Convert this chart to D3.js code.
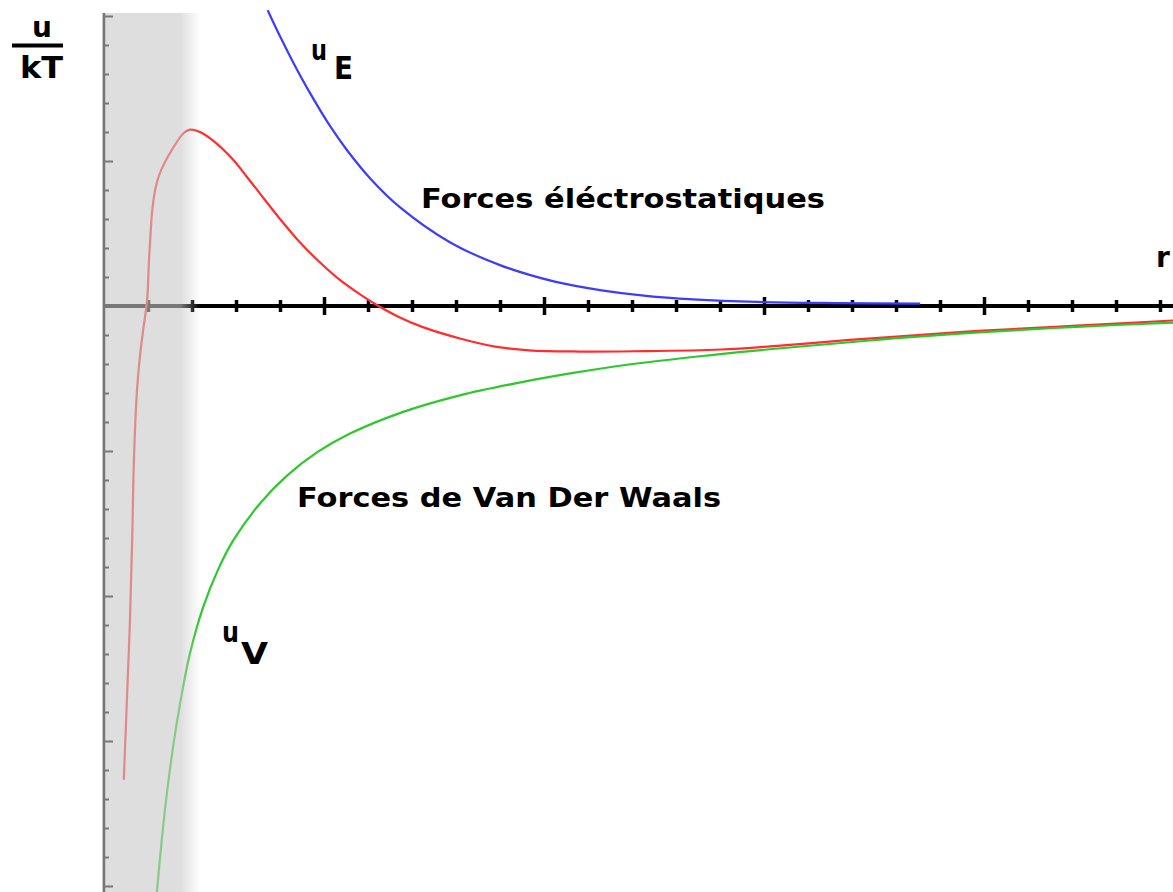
<!DOCTYPE html>
<html>
<head>
<meta charset="utf-8">
<script src="https://cdn.jsdelivr.net/npm/d3@7"></script>
<style>
  body { margin: 0; background: #fff; }
  svg { display: block; }
  .label { font-family: "DejaVu Sans", sans-serif; font-weight: bold; fill: #000; }
</style>
</head>
<body>
<svg width="1173" height="892"></svg>
<script>
// Tick positions (distance units along r, and u/kT units)
const xMinorTicks = [1, 2, 3, 4, 6, 7, 8, 9, 11, 12, 13, 14, 16, 17, 18, 19, 21, 22, 23, 24];
const xMajorTicks = [5, 10, 15, 20];
const yMinorTicks = [9, 8, 7, 6, 4, 3, 2, 1, -1, -2, -3, -4, -6, -7, -8, -9, -11, -12, -13, -14, -16, -17, -18, -19];
const yMajorTicks = [10, 5, -5, -10, -15, -20];

// u_E : electrostatic repulsion (blue)
const electro = [
  [3.72, 10.2], [4.0, 9.3], [4.3, 8.4], [4.68, 7.35], [5.14, 6.2], [5.52, 5.38],
  [6.05, 4.4], [6.73, 3.4], [7.86, 2.2], [9.0, 1.41], [10.27, 0.83], [11.27, 0.55],
  [12.32, 0.35], [13.39, 0.23], [14.84, 0.14], [16.7, 0.1], [18.55, 0.08]
];

// u_V : Van der Waals attraction (green)
const vanDerWaals = [
  [1.19, -20.4], [1.32, -18.3], [1.43, -16.8], [1.57, -15.2], [1.73, -13.7],
  [1.95, -12.0], [2.25, -10.4], [2.59, -9.1], [2.93, -8.1], [3.55, -6.8],
  [4.16, -5.85], [4.84, -5.05], [5.59, -4.4], [6.8, -3.65], [8.09, -3.08],
  [9.41, -2.65], [10.7, -2.3], [12.02, -2.0], [13.75, -1.7], [15.07, -1.5],
  [16.95, -1.25], [18.09, -1.1], [19.98, -0.9], [22.11, -0.72], [24.3, -0.57]
];

// total (red)
const total = [
  [0.45, -16.34], [0.52, -13.59], [0.59, -10.83], [0.64, -8.07], [0.68, -5.31],
  [0.75, -2.9], [0.82, -1.69], [0.89, -0.83], [0.98, 0.21], [1.02, 1.5],
  [1.06, 2.55], [1.1, 3.35], [1.17, 4.05], [1.25, 4.5], [1.38, 4.95], [1.55, 5.4],
  [1.8, 5.95], [1.95, 6.08], [2.18, 6.0], [2.48, 5.7], [2.93, 5.05], [3.25, 4.45],
  [3.61, 3.75], [4.0, 3.0], [4.45, 2.2], [4.91, 1.5], [5.36, 0.9], [5.82, 0.4],
  [6.18, 0.05], [6.7, -0.38], [7.23, -0.72], [8.09, -1.12], [8.89, -1.4],
  [9.66, -1.53], [10.8, -1.57], [12.02, -1.56], [14.02, -1.5], [15.5, -1.35],
  [16.95, -1.17], [18.09, -1.05], [19.98, -0.85], [22.11, -0.68], [24.3, -0.5]
];

const svg = d3.select("svg");
const W = 1173, H = 892;

const x = d3.scaleLinear().domain([0, 24.3]).range([104, 104 + 24.3 * 44]);
const y = d3.scaleLinear().domain([-20, 10]).range([886, 16]);

// Y axis (ticks pointing right)
const yAxisG = svg.append("g").attr("transform", "translate(" + x(0) + ",0)");
yAxisG.append("line")
  .attr("x1", 0).attr("x2", 0)
  .attr("y1", y(10) - 3).attr("y2", H)
  .attr("stroke", "#000").attr("stroke-width", 2.5);
yAxisG.append("g")
  .call(d3.axisRight(y).tickValues(yMinorTicks).tickSize(5).tickFormat(""))
  .call((g) => g.select(".domain").remove())
  .call((g) => g.selectAll(".tick line").attr("stroke", "#000").attr("stroke-width", 2));
yAxisG.append("g")
  .call(d3.axisRight(y).tickValues(yMajorTicks).tickSize(9).tickFormat(""))
  .call((g) => g.select(".domain").remove())
  .call((g) => g.selectAll(".tick line").attr("stroke", "#000").attr("stroke-width", 2));

// X axis (ticks crossing the line)
const xAxisG = svg.append("g").attr("transform", "translate(0," + y(0) + ")");
xAxisG.append("line")
  .attr("x1", x(0)).attr("x2", W)
  .attr("y1", 0).attr("y2", 0)
  .attr("stroke", "#000").attr("stroke-width", 4);
xAxisG.append("g")
  .call(d3.axisBottom(x).tickValues(xMinorTicks).tickSize(6).tickFormat(""))
  .call((g) => g.select(".domain").remove())
  .call((g) => g.selectAll(".tick line").attr("y1", -6).attr("stroke", "#000").attr("stroke-width", 3.5));
xAxisG.append("g")
  .call(d3.axisBottom(x).tickValues(xMajorTicks).tickSize(9).tickFormat(""))
  .call((g) => g.select(".domain").remove())
  .call((g) => g.selectAll(".tick line").attr("y1", -9).attr("stroke", "#000").attr("stroke-width", 3.5));

// Curves
const line = d3.line()
  .x(function (d) { return x(d[0]); })
  .y(function (d) { return y(d[1]); })
  .curve(d3.curveCatmullRom.alpha(0.5));

svg.append("path").datum(electro)
  .attr("d", line).attr("fill", "none")
  .attr("stroke", "#3c3cff").attr("stroke-width", 2.2);
svg.append("path").datum(total)
  .attr("d", line).attr("fill", "none")
  .attr("stroke", "#ff2d2d").attr("stroke-width", 2.2);
svg.append("path").datum(vanDerWaals)
  .attr("d", line).attr("fill", "none")
  .attr("stroke", "#2ec82e").attr("stroke-width", 2.2);

// Shaded contact zone, laid over everything with partial opacity
const defs = svg.append("defs");
const grad = defs.append("linearGradient").attr("id", "shade")
  .attr("x1", "0%").attr("x2", "100%").attr("y1", "0%").attr("y2", "0%");
grad.append("stop").attr("offset", "0%").attr("stop-color", "rgb(200,200,200)").attr("stop-opacity", 0.6);
grad.append("stop").attr("offset", "80%").attr("stop-color", "rgb(200,200,200)").attr("stop-opacity", 0.6);
grad.append("stop").attr("offset", "100%").attr("stop-color", "rgb(200,200,200)").attr("stop-opacity", 0);
svg.append("rect")
  .attr("x", x(0) - 2).attr("y", y(10) - 3)
  .attr("width", 98).attr("height", H - y(10) + 3)
  .attr("fill", "url(#shade)");

// Labels
// u / kT
svg.append("text").attr("class", "label")
  .attr("x", 42).attr("y", 37).attr("text-anchor", "middle")
  .style("font-size", "28px").text("u");
svg.append("line")
  .attr("x1", 12).attr("x2", 63).attr("y1", 45.5).attr("y2", 45.5)
  .attr("stroke", "#000").attr("stroke-width", 4);
svg.append("text").attr("class", "label")
  .attr("x", 20).attr("y", 78)
  .attr("textLength", 43).attr("lengthAdjust", "spacingAndGlyphs")
  .style("font-size", "31px").text("kT");

// u_E
svg.append("text").attr("class", "label")
  .attr("x", 311).attr("y", 60)
  .attr("textLength", 16).attr("lengthAdjust", "spacingAndGlyphs")
  .style("font-size", "28px").text("u");
svg.append("text").attr("class", "label")
  .attr("x", 334).attr("y", 79)
  .attr("textLength", 19).attr("lengthAdjust", "spacingAndGlyphs")
  .style("font-size", "32px").text("E");

// u_V
svg.append("text").attr("class", "label")
  .attr("x", 222).attr("y", 642)
  .attr("textLength", 17).attr("lengthAdjust", "spacingAndGlyphs")
  .style("font-size", "28px").text("u");
svg.append("text").attr("class", "label")
  .attr("x", 241).attr("y", 664)
  .attr("textLength", 27).attr("lengthAdjust", "spacingAndGlyphs")
  .style("font-size", "30px").text("V");

svg.append("text").attr("class", "label")
  .attr("x", 421).attr("y", 208)
  .attr("textLength", 404).attr("lengthAdjust", "spacingAndGlyphs")
  .style("font-size", "26px").text("Forces éléctrostatiques");

svg.append("text").attr("class", "label")
  .attr("x", 297).attr("y", 507)
  .attr("textLength", 424).attr("lengthAdjust", "spacingAndGlyphs")
  .style("font-size", "27px").text("Forces de Van Der Waals");

// axis name r (clipped by the right edge)
svg.append("text").attr("class", "label")
  .attr("x", 1156).attr("y", 267)
  .style("font-size", "28px").text("r");
</script>
</body>
</html>
